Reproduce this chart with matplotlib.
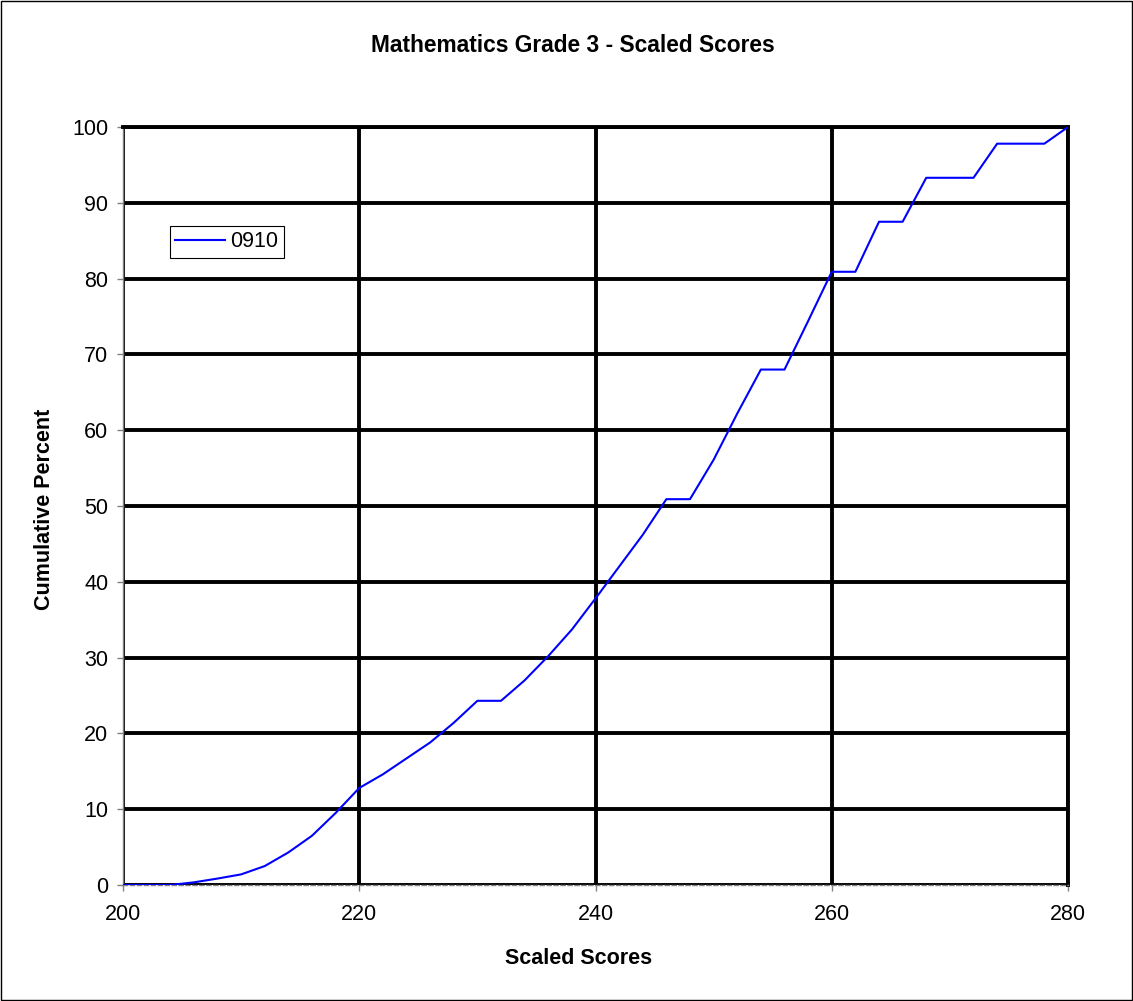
#!usr/bin/python

"""
Cumulative percent of scaled scores, Mathematics Grade 3
"""
import matplotlib.pyplot as plt

plt.rcParams['font.family'] = ['Liberation Sans', 'DejaVu Sans']

# data
scores = [200, 202, 204, 206, 208, 210, 212, 214, 216, 218, 220, 222, 224,
          226, 228, 230, 232, 234, 236, 238, 240, 242, 244, 246, 248, 250,
          252, 254, 256, 258, 260, 262, 264, 266, 268, 270, 272, 274, 276,
          278, 280]
cum_pct = [0.0, 0.0, 0.0, 0.35, 0.85, 1.4, 2.5, 4.3, 6.5, 9.5, 12.8, 14.6,
           16.7, 18.8, 21.4, 24.3, 24.3, 27.0, 30.2, 33.7, 37.8, 42.0, 46.2,
           50.9, 50.9, 56.1, 62.2, 68.0, 68.0, 74.4, 80.9, 80.9, 87.5, 87.5,
           93.3, 93.3, 93.3, 97.8, 97.8, 97.8, 100.0]
series_name = '0910'
x_ticks = [200, 220, 240, 260, 280]
y_ticks = list(range(0, 101, 10))

W, H = 1133, 1001
FS = 15.5


def main():
    fig = plt.figure(figsize=(W / 100, H / 100), dpi=100)
    ax = fig.add_axes([123 / W, 1 - 885 / H, 945 / W, 758 / H])

    ax.plot(scores, cum_pct, color='#0000ff', lw=1.5, label=series_name,
            zorder=3)

    ax.set_xlim(200, 280)
    ax.set_ylim(0, 100)
    ax.set_xticks(x_ticks)
    ax.set_yticks(y_ticks)
    ax.grid(True, color='black', lw=2.8, zorder=1)
    ax.set_axisbelow(True)

    for side in ['top', 'right']:
        ax.spines[side].set_color('black')
        ax.spines[side].set_linewidth(2.8)
    ax.spines['left'].set_color('#808080')
    ax.spines['left'].set_linewidth(1.0)
    ax.spines['bottom'].set_color('#808080')
    ax.spines['bottom'].set_linewidth(1.0)
    ax.spines['bottom'].set_linestyle((0, (3, 2)))

    ax.tick_params(axis='both', direction='out', length=4.5, width=1,
                   color='#808080', labelsize=FS)
    ax.tick_params(axis='y', pad=6)
    ax.tick_params(axis='x', pad=9)

    fig.text(573 / W, 1 - 46 / H, 'Mathematics Grade 3 - Scaled Scores',
             fontsize=FS + 0.9, fontweight='bold', ha='center', va='center')
    fig.text(579 / W, 1 - 958 / H, 'Scaled Scores', fontsize=FS,
             fontweight='bold', ha='center', va='center')
    fig.text(45 / W, 1 - 509 / H, 'Cumulative Percent', fontsize=FS,
             fontweight='bold', ha='center', va='center', rotation=90)

    leg = ax.legend(loc='upper left', bbox_to_anchor=(170 / W, 1 - 226 / H),
                    bbox_transform=fig.transFigure, fontsize=FS,
                    fancybox=False, framealpha=1, borderpad=0.25,
                    borderaxespad=0, handlelength=2.3, handletextpad=0.25)
    leg.get_frame().set_edgecolor('black')
    leg.get_frame().set_linewidth(0.8)

    # outer chart border
    fig.patches.append(plt.Rectangle((0.001, 0.001), 0.998, 0.998,
                                     transform=fig.transFigure, fill=False,
                                     edgecolor='black', lw=1.0))

    fig.savefig('out.png', dpi=100)


if __name__ == '__main__':
    main()
